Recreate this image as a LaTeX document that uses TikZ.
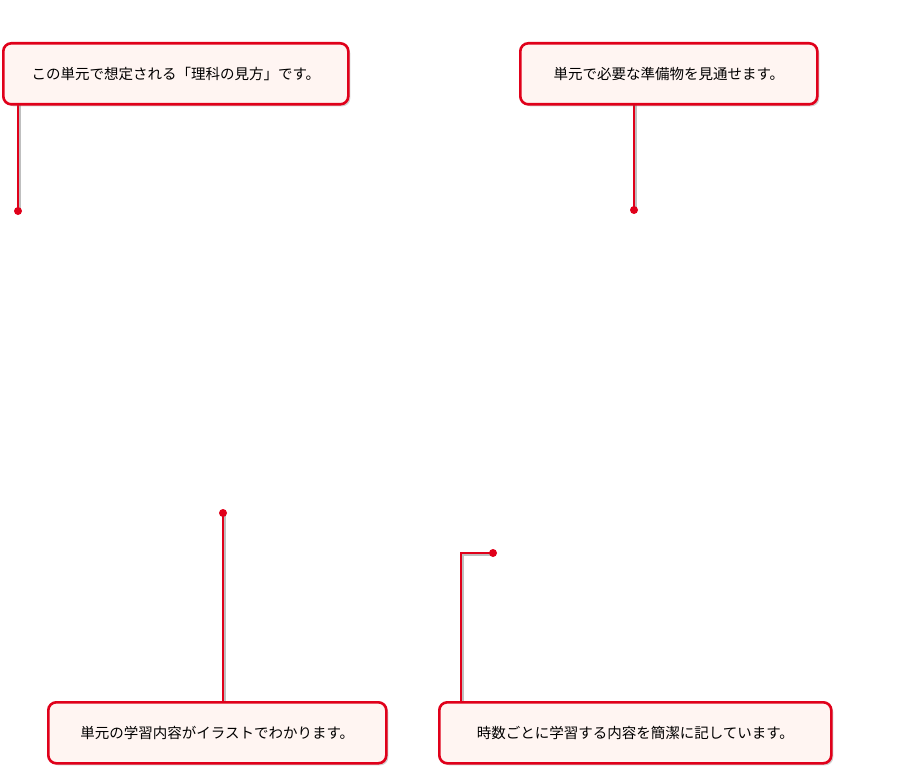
\documentclass[tikz,border=0pt]{standalone}
\usepackage{fontspec}
\setmainfont{Noto Sans CJK JP}
\usetikzlibrary{shadows}
\definecolor{cred}{HTML}{E0001A}
\definecolor{cfill}{HTML}{FFF5F2}
\tikzset{x=1pt,y=-1pt,
 callout/.style={draw=cred,line width=2.6pt,fill=cfill,rounded corners=8pt,anchor=north west,inner sep=0pt,font=\fontsize{14.5}{16}\selectfont,drop shadow={shadow xshift=2pt,shadow yshift=-2pt,opacity=0.35}},
 lead/.style={draw=cred,line width=1.6pt},
 dotc/.style={circle,fill=cred,inner sep=0pt,minimum size=8pt}}
\begin{document}
\begin{tikzpicture}
\useasboundingbox (0,0) rectangle (909,773);
\draw[lead,gray!50,line width=1.6pt] (20,105) -- (20,213);
\draw[lead] (18,103) -- (18,211);
\node[dotc] (d1) at (18,211) {};
\node[callout,minimum width=345pt,minimum height=61pt] (b1) at (2,42) {この単元で想定される「理科の見方」です。};
\draw[lead,gray!50] (636,105) -- (636,212);
\draw[lead] (634,103) -- (634,210);
\node[dotc] (d2) at (634,210) {};
\node[callout,minimum width=297pt,minimum height=61pt] (b2) at (519,42) {単元で必要な準備物を見通せます。};
\draw[lead,gray!50] (225,515) -- (225,703);
\draw[lead] (223,513) -- (223,701);
\node[dotc] (d3) at (223,513) {};
\node[callout,minimum width=338pt,minimum height=61pt] (b3) at (47,701) {単元の学習内容がイラストでわかります。};
\draw[lead,gray!50] (463,703) -- (463,555) -- (495,555);
\draw[lead] (461,701) -- (461,553) -- (493,553);
\node[dotc] (d4) at (493,553) {};
\node[callout,minimum width=392pt,minimum height=61pt] (b4) at (438,701) {時数ごとに学習する内容を簡潔に記しています。};
\end{tikzpicture}
\end{document}
